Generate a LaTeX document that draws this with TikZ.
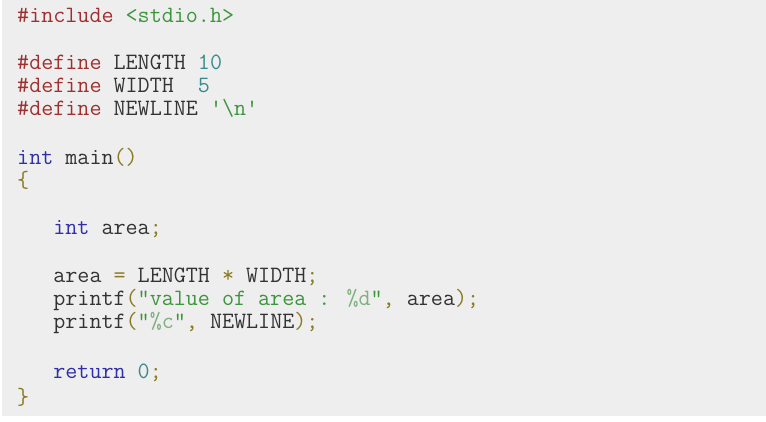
\documentclass[tikz,border=0pt]{standalone}
\usepackage{fontspec}
\definecolor{bgc}{HTML}{EEEEEE}
\definecolor{pp}{HTML}{A03030}
\definecolor{str}{HTML}{3C963C}
\definecolor{fmt}{HTML}{7FB07F}
\definecolor{num}{HTML}{3A8C8C}
\definecolor{kw}{HTML}{2F2FA8}
\definecolor{pn}{HTML}{8A7A20}
\definecolor{tx}{HTML}{333333}
\newcommand{\cPP}[1]{\textcolor{pp}{#1}}
\newcommand{\cSt}[1]{\textcolor{str}{#1}}
\newcommand{\cFm}[1]{\textcolor{fmt}{#1}}
\newcommand{\cNm}[1]{\textcolor{num}{#1}}
\newcommand{\cKw}[1]{\textcolor{kw}{#1}}
\newcommand{\cPn}[1]{\textcolor{pn}{#1}}
\begin{document}
\begin{tikzpicture}[x=1pt,y=-1pt,
  code/.style={anchor=west,inner sep=0pt,font=\fontsize{23.4}{26}\ttfamily,text=tx}]
\useasboundingbox (0,0) rectangle (766,422);
\fill[bgc] (2,0) rectangle (766,416);
\node[code] (l1) at (17,15) {\cPP{\#include} \cSt{<stdio.h>}};
\node[code] (l3) at (17,62) {\cPP{\#define} LENGTH \cNm{10}};
\node[code] (l4) at (17,85) {\cPP{\#define} WIDTH\ \ \cNm{5}};
\node[code] (l5) at (17,108) {\cPP{\#define} NEWLINE \cSt{'\textbackslash n'}};
\node[code] (l7) at (17,157) {\cKw{int} main\cPn{()}};
\node[code] (l8) at (17,180) {\cPn{\{}};
\node[code] (l10) at (17,229) {\ \ \ \cKw{int} area\cPn{;}};
\node[code] (l12) at (17,277) {\ \ \ area \cPn{=} LENGTH \cPn{*} WIDTH\cPn{;}};
\node[code] (l13) at (17,300) {\ \ \ printf\cPn{(}\cSt{"value of area : }\cFm{\%d}\cSt{"}\cPn{,} area\cPn{);}};
\node[code] (l14) at (17,323) {\ \ \ printf\cPn{(}\cSt{"}\cFm{\%c}\cSt{"}\cPn{,} NEWLINE\cPn{);}};
\node[code] (l16) at (17,373) {\ \ \ \cKw{return} \cNm{0}\cPn{;}};
\node[code] (l17) at (17,397) {\cPn{\}}};
\end{tikzpicture}
\end{document}
